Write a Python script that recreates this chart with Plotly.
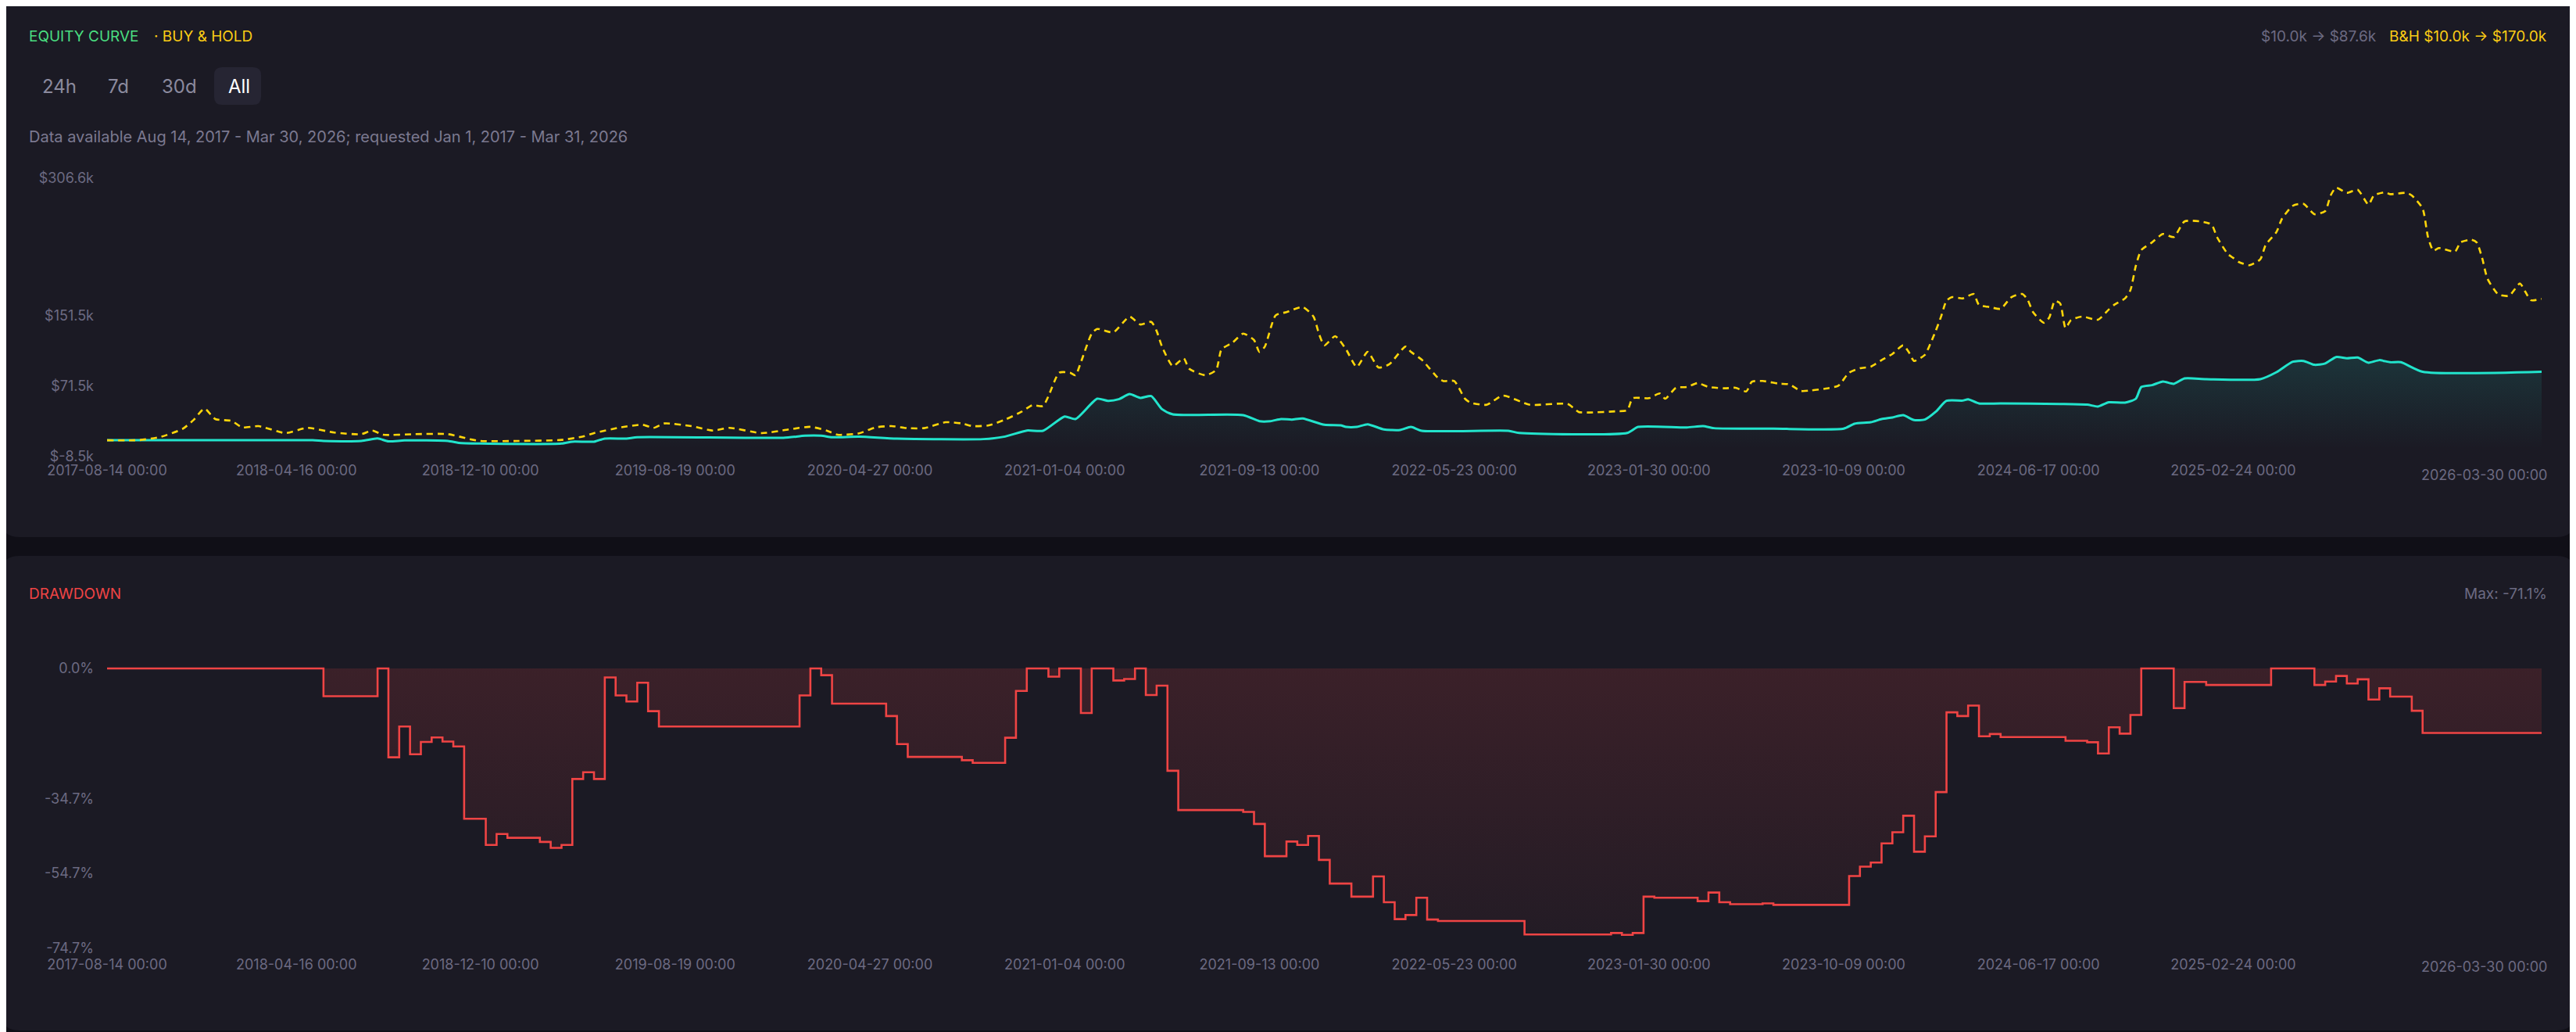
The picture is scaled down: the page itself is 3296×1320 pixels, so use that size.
import numpy as np
import pandas as pd
import plotly.graph_objects as go

W, H = 3296, 1320
# the page body adds an 8px margin, so layout positions are measured from the window
# corner and shifted back by this much
OFF = 8
START = pd.Timestamp("2017-08-14")
END = pd.Timestamp("2026-03-30")

# buy & hold, week offsets from START and value in $k
bh_week = [0, 6, 10, 14, 16, 18, 20, 23, 25, 28, 33, 37, 42, 47, 49, 51, 57, 63, 67, 69,
           76, 84, 88, 90, 95, 99, 101, 103, 108, 112, 115, 121, 126, 130, 133, 135, 139,
           142, 145, 148, 151, 155, 158, 160, 163, 166, 169, 171, 173, 174, 176, 178, 179,
           180, 182, 183, 186, 189, 191, 193, 194, 195, 197, 199, 200, 203, 205, 206, 208,
           210, 212, 213, 214, 216, 218, 221, 223, 224, 225, 227, 229, 231, 233, 235, 237,
           240, 241, 243, 246, 247, 249, 251, 252, 255, 258, 263, 270, 272, 274, 279, 281,
           282, 285, 287, 288, 290, 292, 294, 296, 299, 301, 303, 304, 306, 309, 311, 313,
           315, 318, 320, 322, 324, 326, 328, 330, 332, 333, 334, 336, 337, 338, 339, 340,
           341, 343, 345, 346, 348, 350, 352, 354, 355, 356, 358, 359, 360, 361, 362, 363,
           365, 368, 370, 371, 373, 374, 375, 376, 378, 380, 382, 384, 387, 389, 390, 392,
           393, 394, 396, 398, 399, 401, 402, 404, 406, 408, 410, 411, 412, 414, 416, 418,
           419, 421, 422, 425, 426, 428, 429, 430, 431, 434, 435, 437, 438, 439, 440, 442,
           444, 446, 447, 448, 450]
bh_value = [10.0, 10.2, 14.0, 23.0, 33.0, 45.8, 34.0, 31.9, 24.6, 26.0, 18.1, 24.0, 18.7, 16.9,
            21.0, 16.3, 16.9, 16.9, 11.3, 9.2, 9.2, 10.4, 14.3, 18.1, 24.6, 27.5, 24.0, 29.0,
            26.0, 21.0, 24.0, 18.1, 22.2, 25.2, 21.0, 16.3, 17.8, 24.5, 26.0, 23.7, 23.7, 30.4,
            29.0, 26.0, 26.9, 33.4, 42.2, 49.6, 48.7, 59.9, 86.5, 86.5, 83.5, 98.3, 130.7,
            136.0, 132.2, 149.9, 141.0, 144.0, 133.7, 116.0, 93.9, 102.7, 91.0, 83.6, 89.5,
            113.0, 120.4, 130.7, 123.4, 110.0, 116.0, 151.4, 155.0, 160.8, 149.9, 130.7, 117.5,
            127.8, 113.0, 93.0, 110.0, 92.4, 96.0, 116.0, 110.0, 101.2, 80.6, 77.0, 77.0, 57.0,
            52.6, 50.2, 60.5, 50.2, 51.0, 42.0, 41.4, 42.8, 44.0, 57.6, 57.6, 62.9, 57.0, 69.4,
            70.3, 74.7, 70.3, 68.8, 69.4, 65.3, 76.2, 77.1, 74.1, 73.2, 65.9, 66.4, 68.8, 71.7,
            86.5, 91.5, 93.3, 100.7, 107.7, 117.5, 110.1, 99.8, 106.6, 119.0, 133.7, 150.0,
            168.0, 172.0, 170.6, 175.6, 163.2, 160.8, 158.8, 172.0, 175.6, 169.1, 155.0, 143.0,
            149.0, 167.6, 165.0, 137.0, 146.0, 150.0, 146.5, 158.0, 163.3, 170.6, 180.0, 207.5,
            225.2, 234.0, 243.5, 240.0, 257.7, 257.7, 254.1, 240.0, 220.8, 216.4, 211.9, 208.1,
            214.9, 231.1, 245.8, 260.6, 275.4, 277.7, 265.9, 269.4, 287.1, 296.0, 290.1, 293.6,
            276.8, 287.1, 290.7, 288.6, 290.1, 287.1, 272.4, 240.0, 224.6, 227.6, 223.7, 234.0,
            237.0, 234.0, 216.4, 192.8, 175.1, 173.6, 187.4, 178.0, 168.6, 170.0]

# strategy equity, $k
eq_week = [0, 38, 40, 47, 50, 52, 55, 63, 65, 69, 84, 86, 90, 92, 96, 98, 125, 129, 132, 134,
           139, 146, 162, 166, 170, 173, 177, 179, 183, 185, 187, 189, 191, 193, 195, 197, 210,
           213, 215, 217, 219, 221, 225, 228, 229, 231, 233, 236, 239, 241, 243, 259, 261, 281,
           283, 292, 295, 297, 308, 321, 323, 326, 328, 330, 332, 334, 336, 338, 340, 343, 344,
           346, 350, 361, 366, 368, 370, 373, 375, 376, 378, 380, 382, 384, 388, 398, 401, 404,
           406, 408, 410, 412, 414, 416, 418, 420, 422, 424, 428, 450]
eq_value = [10.0, 10.0, 9.3, 9.3, 12.0, 8.7, 9.8, 9.3, 7.0, 6.3, 6.3, 8.4, 8.4, 11.9, 11.9, 13.4,
            12.8, 15.1, 15.1, 13.4, 14.0, 11.8, 11.3, 14.2, 21.0, 20.7, 36.9, 34.0, 57.0, 54.6,
            56.4, 62.3, 57.9, 60.0, 45.2, 39.3, 38.4, 31.6, 31.6, 34.0, 33.4, 34.6, 27.5, 26.9,
            25.1, 25.1, 28.1, 22.2, 21.6, 25.1, 20.7, 20.7, 18.3, 18.3, 25.1, 24.5, 26.0, 23.7,
            23.1, 23.1, 28.7, 30.4, 34.0, 35.8, 38.4, 32.8, 33.4, 42.2, 54.6, 54.9, 56.4, 51.7,
            51.7, 51.1, 50.3, 48.2, 53.0, 52.6, 57.0, 70.3, 72.4, 76.5, 73.9, 80.0, 79.2, 79.2,
            87.1, 98.9, 99.8, 95.4, 96.9, 104.2, 102.8, 103.7, 97.8, 100.7, 98.3, 98.3, 87.6,
            87.6]

# drawdown, %, change points of a step series
dd_week = [0, 40, 50, 52, 54, 56, 58, 60, 62, 64, 66, 70, 72, 74, 80, 82, 84, 86, 88, 90, 92,
           94, 96, 98, 100, 102, 128, 130, 132, 134, 144, 146, 148, 158, 160, 166, 168, 170,
           174, 176, 180, 182, 186, 188, 190, 192, 194, 196, 198, 210, 212, 214, 218, 220, 222,
           224, 226, 230, 234, 236, 238, 240, 242, 244, 246, 262, 278, 280, 282, 284, 286, 294,
           296, 298, 300, 306, 308, 322, 324, 326, 328, 330, 332, 334, 336, 338, 340, 342, 344,
           346, 348, 350, 362, 366, 368, 370, 372, 374, 376, 382, 384, 388, 400, 408, 410, 412,
           414, 416, 418, 420, 422, 426, 428, 450]
dd_value = [0, -7.4, 0, -23.7, -15.5, -22.9, -19.6, -18.4, -19.5, -20.8, -40.1, -47.1, -44.2,
            -45.2, -46.3, -47.9, -47.1, -29.5, -27.7, -29.5, -2.4, -7.2, -8.8, -3.8, -11.4, -15.5,
            -7.2, 0, -1.8, -9.4, -12.7, -20.2, -23.6, -24.5, -25.2, -18.5, -6.0, 0, -2.2, 0,
            -11.9, 0, -3.2, -2.8, 0, -7.1, -4.6, -27.3, -37.8, -38.3, -41.5, -50.1, -46.2, -47.1,
            -44.7, -51.1, -57.4, -60.9, -55.5, -62.4, -66.9, -65.8, -61.2, -67.0, -67.4, -71.0,
            -70.6, -71.1, -70.6, -60.9, -61.2, -62.1, -59.8, -62.4, -62.9, -62.7, -63.1, -55.4,
            -52.9, -51.8, -46.7, -43.7, -39.3, -48.9, -44.8, -33.0, -11.7, -12.7, -9.9, -18.1,
            -17.5, -18.3, -19.3, -19.7, -22.7, -15.7, -17.4, -12.4, 0, -10.6, -3.6, -4.4, 0, -4.4,
            -3.5, -2.0, -4.0, -2.9, -8.3, -5.3, -7.5, -11.3, -17.2, -17.2]

x_ticks = ["2017-08-14", "2018-04-16", "2018-12-10", "2019-08-19", "2020-04-27", "2021-01-04",
           "2021-09-13", "2022-05-23", "2023-01-30", "2023-10-09", "2024-06-17", "2025-02-24"]
eq_ticks = [-8.5, 71.5, 151.5, 306.6]
dd_ticks = [0.0, -34.7, -54.7, -74.7]

BG = "#100f17"
PANEL = "#1b1a24"
MUTED = "#6c6a82"
GREEN = "#4ade80"
YELLOW = "#facc15"
TEAL = "#22e4cc"
RED = "#ef4444"
FONT = "Inter"


def to_dates(weeks):
    return START + pd.to_timedelta(np.array(weeks) * 7, unit="D")


def px(x):
    return (x - OFF) / W


def py(y):
    return 1 - (y - OFF) / H


def rounded_box(x0, y0, x1, y1, r, color):
    pts = (f"M {px(x0 + r)},{py(y0)} L {px(x1 - r)},{py(y0)} "
           f"Q {px(x1)},{py(y0)} {px(x1)},{py(y0 + r)} L {px(x1)},{py(y1 - r)} "
           f"Q {px(x1)},{py(y1)} {px(x1 - r)},{py(y1)} L {px(x0 + r)},{py(y1)} "
           f"Q {px(x0)},{py(y1)} {px(x0)},{py(y1 - r)} L {px(x0)},{py(y0 + r)} "
           f"Q {px(x0)},{py(y0)} {px(x0 + r)},{py(y0)} Z")
    return dict(type="path", xref="paper", yref="paper", path=pts,
                fillcolor=color, line=dict(width=0), layer="below")


def label(text, x, y, color, size, anchor="left"):
    return dict(text=text, x=px(x), y=py(y), xref="paper", yref="paper",
                xanchor=anchor, yanchor="middle", showarrow=False,
                font=dict(family=FONT, size=size, color=color))


fig = go.Figure()

fig.add_trace(go.Scatter(
    x=to_dates(eq_week), y=np.array(eq_value) * 1000, mode="lines",
    line=dict(color=TEAL, width=3, shape="spline", smoothing=0.6),
    fill="tozeroy",
    fillgradient=dict(type="vertical", colorscale=[[0, "rgba(34,228,204,0)"],
                                                    [1, "rgba(34,228,204,0.13)"]]),
    xaxis="x", yaxis="y", hoverinfo="skip"))

fig.add_trace(go.Scatter(
    x=to_dates(bh_week), y=np.array(bh_value) * 1000, mode="lines",
    line=dict(color="#ffd60a", width=2.6, dash="8px,6px", shape="spline", smoothing=0.6),
    xaxis="x", yaxis="y", hoverinfo="skip"))

fig.add_trace(go.Scatter(
    x=to_dates(dd_week), y=dd_value, mode="lines",
    line=dict(color=RED, width=2.6, shape="hv"),
    fill="tozeroy",
    fillgradient=dict(type="vertical", colorscale=[[0, "rgba(239,68,68,0.04)"],
                                                    [1, "rgba(239,68,68,0.15)"]]),
    xaxis="x2", yaxis="y2", hoverinfo="skip"))

x_dom = [px(137), px(3252)]
k_per_px = 1.1298  # pixels per $1k on the equity axis
eq_range = [-9.0, 307.1]
eq_dom = [py(584 + 0.5 * k_per_px), py(228 - 0.5 * k_per_px)]
dd_px = 4.763
dd_range = [-75.5, 0.8]
dd_dom = [py(1213 + 0.8 * dd_px), py(855 - 0.8 * dd_px)]

xaxis_common = dict(
    type="date", range=[START, END], domain=x_dom, automargin=False,
    tickvals=pd.to_datetime(x_ticks), ticktext=[f"{t} 00:00" for t in x_ticks],
    tickfont=dict(family=FONT, size=18, color=MUTED), showgrid=False, zeroline=False,
    showline=False, ticks="", ticklabelstandoff=4, fixedrange=True)

fig.update_layout(
    width=W, height=H, margin=dict(l=0, r=0, t=0, b=0, pad=0, autoexpand=False),
    paper_bgcolor=BG, plot_bgcolor="rgba(0,0,0,0)", showlegend=False,
    font=dict(family=FONT),
    xaxis=dict(anchor="y", **xaxis_common),
    xaxis2=dict(anchor="y2", **xaxis_common),
    yaxis=dict(domain=eq_dom, range=[v * 1000 for v in eq_range], automargin=False,
               tickvals=[v * 1000 for v in eq_ticks],
               ticktext=[f"${v:.1f}k" for v in eq_ticks],
               tickfont=dict(family=FONT, size=18, color=MUTED), showgrid=False,
               zeroline=False, ticks="", ticklabelstandoff=16),
    yaxis2=dict(domain=dd_dom, range=dd_range, tickvals=dd_ticks, automargin=False,
                ticktext=[f"{v:.1f}%" for v in dd_ticks],
                tickfont=dict(family=FONT, size=18, color=MUTED), showgrid=False,
                zeroline=False, ticks="", ticklabelstandoff=16),
    shapes=[rounded_box(1, 1, 3295, 687, 24, PANEL),
            rounded_box(1, 711, 3295, 1318, 24, PANEL),
            rounded_box(274, 86, 334, 134, 10, "#262533")],
)

last_tick = f"{END:%Y-%m-%d} 00:00"
annotations = [
    label("EQUITY CURVE", 35, 47, GREEN, 19),
    label("· BUY & HOLD", 195, 47, YELLOW, 19),
    label("24h", 52, 110, "#8b8a9e", 24),
    label("7d", 136, 110, "#8b8a9e", 24),
    label("30d", 205, 110, "#8b8a9e", 24),
    label("All", 290, 110, "#ffffff", 24),
    label("Data available Aug 14, 2017 - Mar 30, 2026; requested Jan 1, 2017 - Mar 31, 2026",
          35, 175, "#7b7990", 20),
    label(f"B&H ${bh_value[0]:.1f}k → ${bh_value[-1]:.1f}k", 3261, 47, YELLOW, 19, "right"),
    label(f"${eq_value[0]:.1f}k → ${eq_value[-1]:.1f}k", 3043, 47, MUTED, 19, "right"),
    label("DRAWDOWN", 35, 759, RED, 19),
    label(f"Max: {min(dd_value):.1f}%", 3261, 759, MUTED, 19, "right"),
    label(last_tick, 3261, 607, MUTED, 18, "right"),
    label(last_tick, 3261, 1236, MUTED, 18, "right"),
]
fig.update_layout(annotations=annotations)

fig.write_html("out.html")
